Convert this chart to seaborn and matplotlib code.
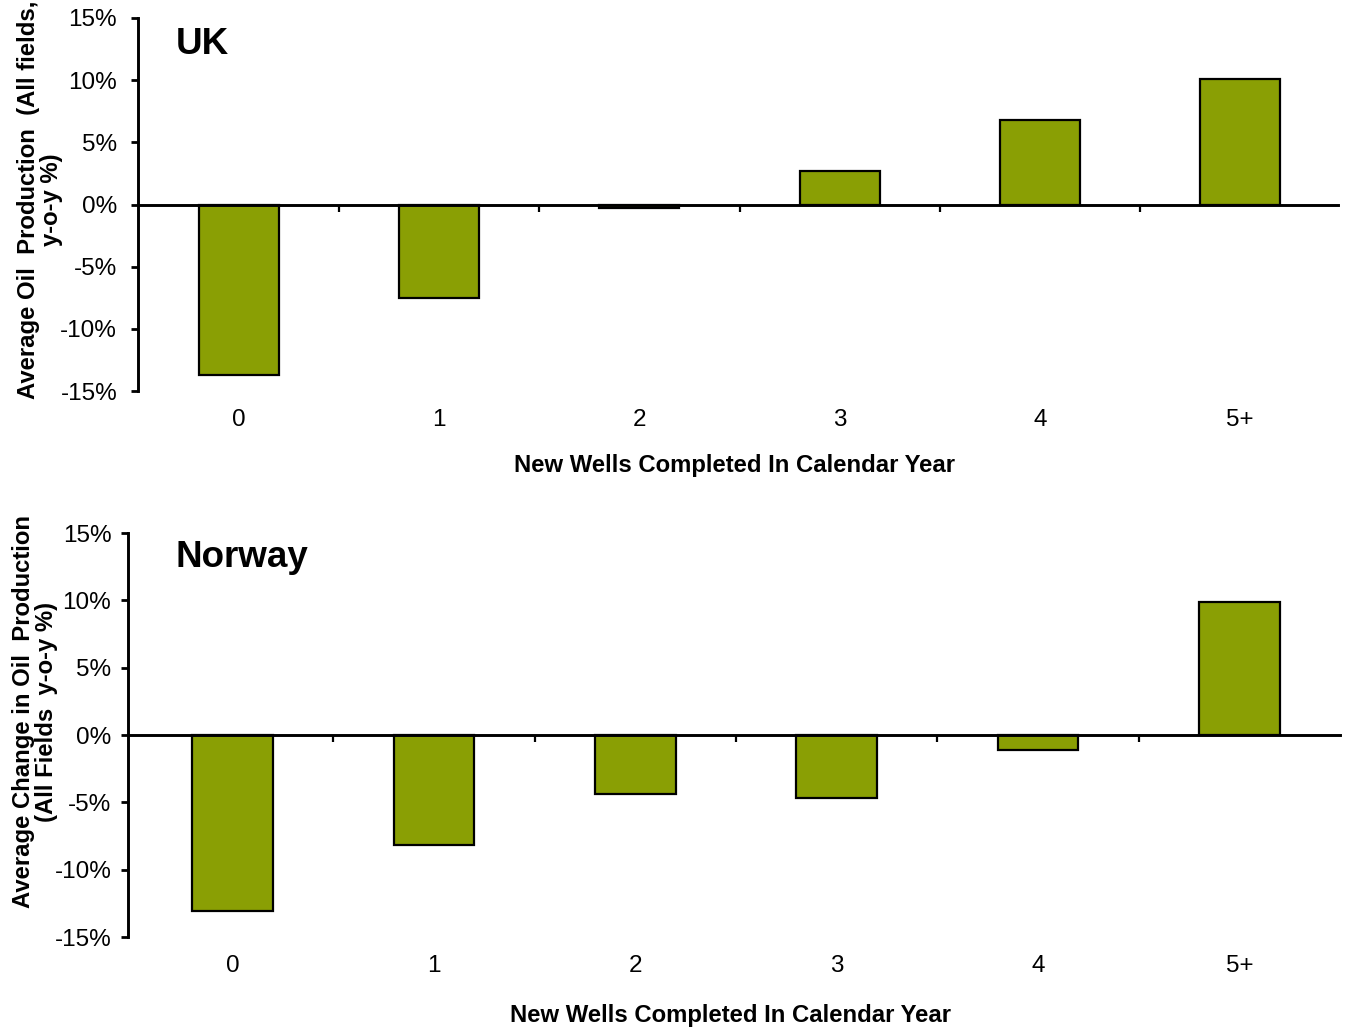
import pandas as pd
import matplotlib
matplotlib.use("Agg")
import matplotlib.pyplot as plt
import seaborn as sns

# Data
wells = ["0", "1", "2", "3", "4", "5+"]
uk_change = [-13.7, -7.5, -0.3, 2.7, 6.8, 10.1]
norway_change = [-13.1, -8.2, -4.4, -4.7, -1.1, 9.9]
y_ticks = [-15, -10, -5, 0, 5, 10, 15]

bar_color = "#8A9F04"

sns.set_style("white")
plt.rcParams["font.family"] = ["Liberation Sans", "DejaVu Sans"]
plt.rcParams["text.color"] = "black"
plt.rcParams["axes.labelcolor"] = "black"
plt.rcParams["xtick.color"] = "black"
plt.rcParams["ytick.color"] = "black"

fig = plt.figure(figsize=(13.46, 10.27), dpi=100)

panels = [
    dict(name="UK", values=uk_change,
         rect=[138 / 1346, 1 - 391 / 1027, 1200 / 1346, 373 / 1027],
         xlim=(-0.505, 5.49),
         ylabel="Average Oil  Production  (All fields,\ny-o-y %)",
         ylabel_xy=(-0.082, 0.512), xlabel_xy=(0.497, -0.2),
         title_xy=(0.0317, 0.93), ypad=10),
    dict(name="Norway", values=norway_change,
         rect=[128 / 1346, 1 - 937 / 1027, 1212 / 1346, 404 / 1027],
         xlim=(-0.52, 5.5),
         ylabel="Average Change in Oil  Production\n(All Fields  y-o-y %)",
         ylabel_xy=(-0.077, 0.557), xlabel_xy=(0.4975, -0.194),
         title_xy=(0.0396, 0.94), ypad=7),
]

for p in panels:
    ax = fig.add_axes(p["rect"])
    df = pd.DataFrame({"Wells": wells, "Change": p["values"]})
    sns.barplot(data=df, x="Wells", y="Change", order=wells, color=bar_color,
                saturation=1, width=0.4, edgecolor="black", linewidth=1.6, ax=ax)

    ax.set_xlim(*p["xlim"])
    ax.set_ylim(-15, 15)
    ax.set_yticks(y_ticks)
    ax.set_yticklabels([f"{v}%" for v in y_ticks], fontsize=17.5)
    ax.tick_params(axis="y", direction="out", length=5, width=2.0,
                   pad=p["ypad"], left=True)

    # zero line acting as the x axis, with ticks between the categories
    for side in ["top", "right"]:
        ax.spines[side].set_visible(False)
    ax.spines["bottom"].set_position(("data", 0))
    for side in ["left", "bottom"]:
        ax.spines[side].set_linewidth(2.1)
        ax.spines[side].set_color("black")
    ax.set_xticks([i + 0.5 for i in range(len(wells) - 1)])
    ax.set_xticklabels([])
    ax.tick_params(axis="x", direction="out", length=5, width=1.6, bottom=True)

    # category labels below the plot area
    sec = ax.secondary_xaxis("bottom")
    sec.set_xticks(range(len(wells)))
    sec.set_xticklabels(wells, fontsize=17.5)
    sec.tick_params(axis="x", length=0, pad=13)
    sec.spines["bottom"].set_visible(False)

    ax.set_xlabel("New Wells Completed In Calendar Year", fontsize=17.2,
                  fontweight="bold", va="center")
    ax.xaxis.set_label_coords(*p["xlabel_xy"])
    ax.set_ylabel(p["ylabel"], fontsize=17.2, fontweight="bold",
                  va="center", linespacing=1.0)
    ax.yaxis.set_label_coords(*p["ylabel_xy"])

    ax.text(*p["title_xy"], p["name"], transform=ax.transAxes, fontsize=26.5,
            fontweight="bold", ha="left", va="center")

fig.savefig("out.png", dpi=100)
